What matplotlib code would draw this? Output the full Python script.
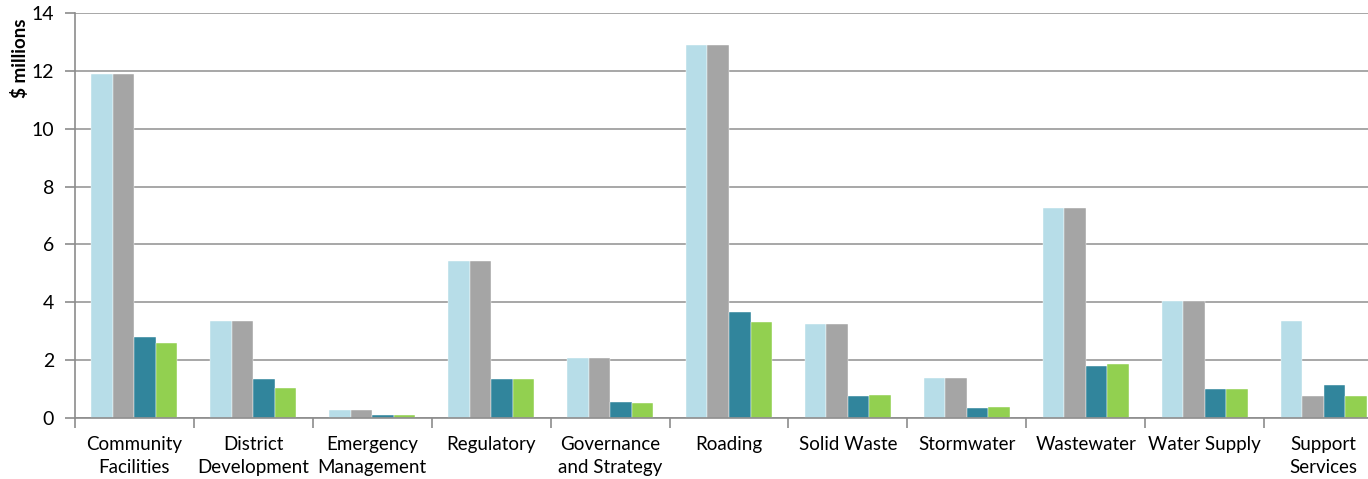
import matplotlib
matplotlib.use("Agg")
import matplotlib.pyplot as plt
import numpy as np

categories = ["Community\nFacilities", "District\nDevelopment", "Emergency\nManagement",
              "Regulatory", "Governance\nand Strategy", "Roading", "Solid Waste",
              "Stormwater", "Wastewater", "Water Supply", "Support\nServices"]
series_a = [11.9, 3.35, 0.28, 5.43, 2.07, 12.9, 3.25, 1.38, 7.26, 4.04, 3.36]
series_b = [11.9, 3.35, 0.28, 5.43, 2.07, 12.9, 3.25, 1.38, 7.26, 4.04, 0.76]
series_c = [2.79, 1.34, 0.09, 1.36, 0.55, 3.66, 0.76, 0.35, 1.80, 0.99, 1.14]
series_d = [2.59, 1.03, 0.09, 1.34, 0.52, 3.32, 0.80, 0.38, 1.86, 0.99, 0.76]
colors = ["#B7DDE8", "#A5A5A5", "#31859C", "#92D050"]
yticks = [0, 2, 4, 6, 8, 10, 12, 14]

plt.rcParams['font.family'] = ['Lato', 'DejaVu Sans']

W, H = 1368, 479
fig = plt.figure(figsize=(W / 100, H / 100), dpi=100)
left, right, top, bottom = 75, 1383, 13, 418
ax = fig.add_axes([left / W, (H - bottom) / H, (right - left) / W, (bottom - top) / H])

x = np.arange(len(categories))
bw = 0.181
series = [series_a, series_b, series_c, series_d]
for i, (s, c) in enumerate(zip(series, colors)):
    ax.bar(x + (i - 1.5) * bw, s, width=bw, color=c, edgecolor="white", linewidth=0.3, zorder=3)

ax.set_xlim(-0.5, len(categories) - 0.5)
ax.set_ylim(0, 14)
ax.set_yticks(yticks)
ax.set_yticklabels([str(t) for t in yticks], fontsize=14)
ax.yaxis.grid(True, color="#A0A0A0", linewidth=1.3, zorder=0)
ax.set_axisbelow(True)

ax.set_xticks(x)
ax.set_xticklabels(categories, fontsize=13.5, linespacing=1.4)
ax.set_xticks(np.arange(len(categories) + 1) - 0.5, minor=True)
ax.tick_params(axis="x", which="major", length=0, pad=13)
ax.tick_params(axis="x", which="minor", length=7, color="#8C8C8C", width=1.2)
ax.tick_params(axis="y", length=7, color="#8C8C8C", width=1.2, pad=8)

for sp in ["top", "right"]:
    ax.spines[sp].set_visible(False)
for sp in ["left", "bottom"]:
    ax.spines[sp].set_color("#8C8C8C")
    ax.spines[sp].set_linewidth(1.2)
    ax.spines[sp].set_zorder(4)

fig.text(20 / W, 1 - 18 / H, "$ millions", rotation=90, fontsize=13.5, fontweight="bold",
         ha="center", va="top")

fig.savefig("out.png", dpi=100)
